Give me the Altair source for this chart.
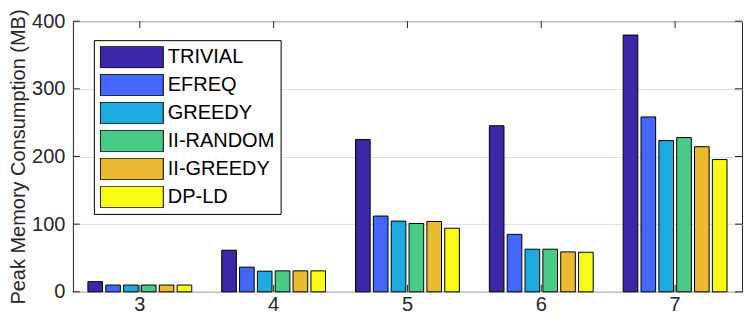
import altair as alt
import pandas as pd

categories = [3, 4, 5, 6, 7]
methods = ["TRIVIAL", "EFREQ", "GREEDY", "II-RANDOM", "II-GREEDY", "DP-LD"]
colors = ["#3E26A8", "#4367FD", "#1CAADF", "#48CB86", "#EABA30", "#F9FB15"]
trivial = [15, 61.5, 225, 245.5, 379.5]
efreq = [10, 36.5, 112, 85, 258.5]
greedy = [10, 30.5, 104.5, 63, 223.5]
ii_random = [10, 31, 101, 63, 228]
ii_greedy = [10, 31, 104, 59, 214.5]
dp_ld = [10, 31, 94, 58.5, 195.5]
y_ticks = [0, 100, 200, 300, 400]

series = [trivial, efreq, greedy, ii_random, ii_greedy, dp_ld]
rows = []
for m, vals in zip(methods, series):
    for c, v in zip(categories, vals):
        rows.append({"n": c, "method": m, "mem": v})
df = pd.DataFrame(rows)
yt = pd.DataFrame({"mem": y_ticks})
xt = pd.DataFrame({"n": categories})

W, H = 670, 271
TICK = 7
FONT = "Liberation Sans, Arial, Helvetica, sans-serif"
AX = "#262626"

xscale = alt.Scale(paddingInner=0.2, paddingOuter=0.1)
yscale = alt.Scale(domain=[0, 400], nice=False)

xaxis = alt.Axis(title=None, labelAngle=0, ticks=False, domain=False, grid=False,
                 labelFontSize=20, labelFont=FONT, labelColor=AX, labelPadding=3)
yaxis = alt.Axis(title="Peak Memory Consumption (MB)", values=y_ticks, ticks=False,
                 domain=False, grid=True, gridColor="#DEDEDE", gridWidth=1,
                 labelFontSize=20, labelFont=FONT, labelColor=AX, labelPadding=8,
                 titleFontSize=20, titleFont=FONT, titleColor=AX,
                 titleFontWeight="normal", titlePadding=3)

rule_kw = dict(color=AX, strokeWidth=1)
left = alt.Chart(yt).mark_rule(**rule_kw).encode(
    y=alt.Y("mem:Q", scale=yscale, axis=yaxis), x=alt.value(0), x2=alt.value(TICK))
right = alt.Chart(yt).mark_rule(**rule_kw).encode(
    y=alt.Y("mem:Q", scale=yscale, axis=yaxis), x=alt.value(W - TICK), x2=alt.value(W))
top = alt.Chart(xt).mark_rule(**rule_kw).encode(
    x=alt.X("n:O", scale=xscale, axis=xaxis), y=alt.value(0), y2=alt.value(TICK))
bottom = alt.Chart(xt).mark_rule(**rule_kw).encode(
    x=alt.X("n:O", scale=xscale, axis=xaxis), y=alt.value(H - TICK), y2=alt.value(H))

bars = alt.Chart(df).mark_bar(stroke="black", strokeWidth=1, opacity=1).encode(
    x=alt.X("n:O", scale=xscale, axis=xaxis),
    xOffset=alt.XOffset("method:N", sort=methods,
                        scale=alt.Scale(paddingInner=0.18, paddingOuter=0.09)),
    y=alt.Y("mem:Q", scale=yscale, axis=yaxis),
    color=alt.Color("method:N", sort=methods,
                    scale=alt.Scale(domain=methods, range=colors),
                    legend=alt.Legend(title=None, orient="none", legendX=21, legendY=19,
                                      padding=6, strokeColor="black", fillColor="white",
                                      symbolType="M-1,-0.344L1,-0.344L1,0.344L-1,0.344Z",
                                      symbolSize=3969, symbolStrokeColor="black",
                                      symbolStrokeWidth=1, symbolOpacity=1,
                                      labelFontSize=20, labelFont=FONT, labelColor="black",
                                      labelOffset=4, rowPadding=6, clipHeight=22,
                                      labelLimit=300, cornerRadius=0)),
)

chart = alt.layer(left, right, top, bottom, bars).properties(
    width=W, height=H,
    padding={"left": 0, "top": 0, "right": 0, "bottom": 0},
    background="white",
).configure_view(stroke=AX, strokeWidth=1)

chart.save("out.html", embed_options={"renderer": "svg", "actions": False})
